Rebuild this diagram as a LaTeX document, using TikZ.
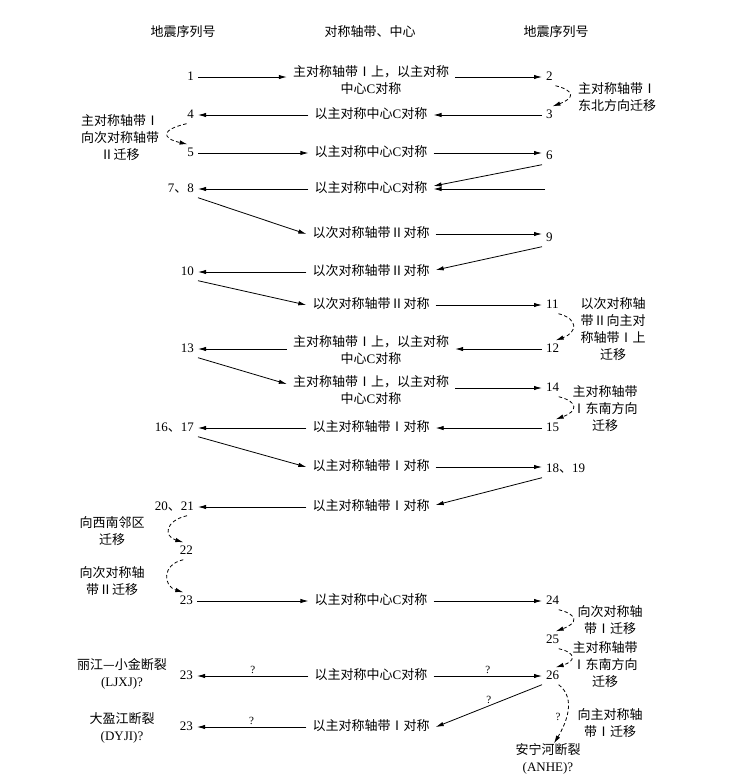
\documentclass[tikz,border=0pt]{standalone}
\usepackage{fontspec}
\setmainfont{Liberation Serif}
\newfontfamily\cjk{Noto Sans CJK SC}
\usetikzlibrary{arrows.meta}
\newcommand\zh[1]{{\cjk #1}}
\begin{document}
\begin{tikzpicture}[x=1pt,y=-1pt,
  every node/.style={font=\fontsize{13}{17}\selectfont, inner sep=0pt},
  num/.style={inner xsep=4pt, inner ysep=2pt, text height=10pt, text depth=3pt},
  lnum/.style={num, anchor=east},
  rnum/.style={num, anchor=west},
  mid/.style={inner xsep=6pt, inner ysep=2pt, text height=10pt, text depth=3pt},
  midtwo/.style={align=center, inner xsep=6pt, inner ysep=2pt},
  lbl/.style={align=center},
  arr/.style={-{Latex[length=8pt,width=4.4pt]}, line width=0.8pt},
  darr/.style={arr, dash pattern=on 3.5pt off 2.5pt},
  q/.style={above=2pt, font=\fontsize{11}{13}\selectfont}
]
\path[fill=white] (0,0) rectangle (746,782);
\useasboundingbox (0,0) rectangle (746,782);

% headers
\node (h1) at (183,32) {\zh{地震序列号}};
\node (h2) at (370,32) {\zh{对称轴带、中心}};
\node (h3) at (556,32) {\zh{地震序列号}};

% row 1
\node[lnum] (n1) at (198,77) {1};
\node[midtwo] (t1) at (371,80) {\zh{主对称轴带Ⅰ上，以主对称}\\\zh{中心}C\zh{对称}};
\node[rnum] (n2) at (542,77) {2};
\draw[arr] (n1.east) -- (n1.east -| t1.west);
\draw[arr] (t1.east |- n2.west) -- (n2.west);
\node[lbl] (r1) at (617,97) {\zh{主对称轴带Ⅰ}\\\zh{东北方向迁移}};

% row 3/4
\node[rnum] (n3) at (542,115) {3};
\node[mid] (t3) at (371,115) {\zh{以主对称中心}C\zh{对称}};
\node[lnum] (n4) at (198,115) {4};
\draw[arr] (n3.west) -- (t3.east);
\draw[arr] (t3.west) -- (n4.east);
\draw[darr] ([xshift=6pt]n2.south) .. controls +(20,5) and +(22,-8) .. ([xshift=3pt]n3.north);
\node[lbl] (l1) at (120,138) {\zh{主对称轴带Ⅰ}\\\zh{向次对称轴带}\\\zh{Ⅱ迁移}};

% row 5/6
\node[lnum] (n5) at (198,153) {5};
\node[mid] (t5) at (371,153) {\zh{以主对称中心}C\zh{对称}};
\node[rnum] (n6) at (542,156) {6};
\draw[arr] (n5.east) -- (t5.west);
\draw[arr] (t5.east) -- (t5.east -| n6.west);
\draw[darr] ([xshift=-4pt]n4.south) .. controls +(-26,6) and +(-26,-6) .. ([xshift=-3pt]n5.north);

% row 7,8
\node[lnum] (n78) at (198,189) {7\zh{、}8};
\node[mid] (t78) at (371,189) {\zh{以主对称中心}C\zh{对称}};
\coordinate (c78) at (545,189);
\draw[arr] (c78) -- (t78.east);
\draw[arr] (n6.south west) -- ([yshift=3pt]t78.east);
\draw[arr] (t78.west) -- (n78.east);

% row 9
\node[mid] (t9) at (371,234) {\zh{以次对称轴带Ⅱ对称}};
\node[rnum] (n9) at (542,238) {9};
\draw[arr] (n78.south east) -- (t9.west);
\draw[arr] (t9.east) -- (t9.east -| n9.west);

% row 10
\node[mid] (t10) at (371,272) {\zh{以次对称轴带Ⅱ对称}};
\node[lnum] (n10) at (198,272) {10};
\draw[arr] (n9.south west) -- ([yshift=2pt]t10.east);
\draw[arr] (t10.west) -- (n10.east);

% row 11
\node[mid] (t11) at (371,305) {\zh{以次对称轴带Ⅱ对称}};
\node[rnum] (n11) at (542,305) {11};
\draw[arr] (n10.south east) -- (t11.west);
\draw[arr] (t11.east) -- (n11.west);
\node[lbl] (r2) at (613,329) {\zh{以次对称轴}\\\zh{带Ⅱ向主对}\\\zh{称轴带Ⅰ上}\\\zh{迁移}};

% row 12/13
\node[rnum] (n12) at (542,349) {12};
\node[midtwo] (t12) at (371,350) {\zh{主对称轴带Ⅰ上，以主对称}\\\zh{中心}C\zh{对称}};
\node[lnum] (n13) at (198,349) {13};
\draw[arr] (n12.west) -- (n12.west -| t12.east);
\draw[arr] (t12.west |- n13.east) -- (n13.east);
\draw[darr] ([xshift=6pt]n11.south) .. controls +(20,5) and +(22,-8) .. ([xshift=3pt]n12.north);

% row 14
\node[midtwo] (t14) at (371,390) {\zh{主对称轴带Ⅰ上，以主对称}\\\zh{中心}C\zh{对称}};
\node[rnum] (n14) at (542,388) {14};
\draw[arr] (n13.south east) -- ([yshift=6pt]t14.west);
\draw[arr] (t14.east |- n14.west) -- (n14.west);
\node[lbl] (r3) at (605,409) {\zh{主对称轴带}\\\zh{Ⅰ东南方向}\\\zh{迁移}};

% row 15/16,17
\node[rnum] (n15) at (542,428) {15};
\node[mid] (t15) at (371,428) {\zh{以主对称轴带Ⅰ对称}};
\node[lnum] (n1617) at (198,428) {16\zh{、}17};
\draw[arr] (n15.west) -- (t15.east);
\draw[arr] (t15.west) -- (n1617.east);
\draw[darr] ([xshift=6pt]n14.south) .. controls +(20,5) and +(22,-8) .. ([xshift=3pt]n15.north);

% row 18,19
\node[mid] (t18) at (371,467) {\zh{以主对称轴带Ⅰ对称}};
\node[rnum] (n1819) at (542,469) {18\zh{、}19};
\draw[arr] (n1617.south east) -- (t18.west);
\draw[arr] (t18.east) -- (t18.east -| n1819.west);

% row 20,21
\node[mid] (t20) at (371,507) {\zh{以主对称轴带Ⅰ对称}};
\node[lnum] (n2021) at (198,507) {20\zh{、}21};
\draw[arr] (n1819.south west) -- ([yshift=2pt]t20.east);
\draw[arr] (t20.west) -- (n2021.east);
\node[lbl] (l2) at (112,531) {\zh{向西南邻区}\\\zh{迁移}};

% 22
\node[lnum] (n22) at (197,551) {22};
\draw[darr] ([xshift=-11pt]n2021.south east) .. controls +(-22,5) and +(-20,-6) .. ([xshift=-3pt]n22.north);
\node[lbl] (l3) at (112,581) {\zh{向次对称轴}\\\zh{带Ⅱ迁移}};

% row 23/24
\node[lnum] (n23a) at (197,601) {23};
\node[mid] (t23) at (371,601) {\zh{以主对称中心}C\zh{对称}};
\node[rnum] (n24) at (542,601) {24};
\draw[arr] (n23a.east) -- (t23.west);
\draw[arr] (t23.east) -- (n24.west);
\draw[darr] ([xshift=-3pt]n22.south) .. controls +(-22,5) and +(-20,-6) .. ([xshift=-3pt]n23a.north);
\node[lbl] (r4) at (610,620) {\zh{向次对称轴}\\\zh{带Ⅰ迁移}};

% 25
\node[rnum] (n25) at (542,640) {25};
\draw[darr] ([xshift=6pt]n24.south) .. controls +(20,5) and +(22,-8) .. ([xshift=3pt]n25.north);
\node[lbl] (r5) at (605,665) {\zh{主对称轴带}\\\zh{Ⅰ东南方向}\\\zh{迁移}};

% row 26
\node[rnum] (n26) at (542,676) {26};
\node[mid] (t26) at (371,676) {\zh{以主对称中心}C\zh{对称}};
\node[lnum] (n23b) at (197,676) {23};
\draw[arr] (t26.east) -- (n26.west) node[q, midway] {?};
\draw[arr] (t26.west) -- (n23b.east) node[q, midway] {?};
\draw[darr] ([xshift=6pt]n25.south) .. controls +(18,4) and +(20,-6) .. ([xshift=3pt]n26.north);
\node[lbl] (l4) at (122,674) {\zh{丽江—小金断裂}\\(LJXJ)?};

% last row
\node[mid] (t27) at (371,727) {\zh{以主对称轴带Ⅰ对称}};
\node[lnum] (n23c) at (197,727) {23};
\draw[arr] (n26.south west) -- (t27.east) node[q, midway] {?};
\draw[arr] (t27.west) -- (n23c.east) node[q, midway] {?};
\node[lbl] (l5) at (122,728) {\zh{大盈江断裂}\\(DYJI)?};

% ANHE
\node[lbl] (anhe) at (548,759) {\zh{安宁河断裂}\\(ANHE)?};
\draw[darr] ([xshift=6pt]n26.south) .. controls +(18,14) and +(12,-20) .. ([xshift=6pt]anhe.north);
\node[font=\fontsize{11}{13}\selectfont] (qa) at (558,717) {?};
\node[lbl] (r6) at (610,723) {\zh{向主对称轴}\\\zh{带Ⅰ迁移}};
\end{tikzpicture}
\end{document}
